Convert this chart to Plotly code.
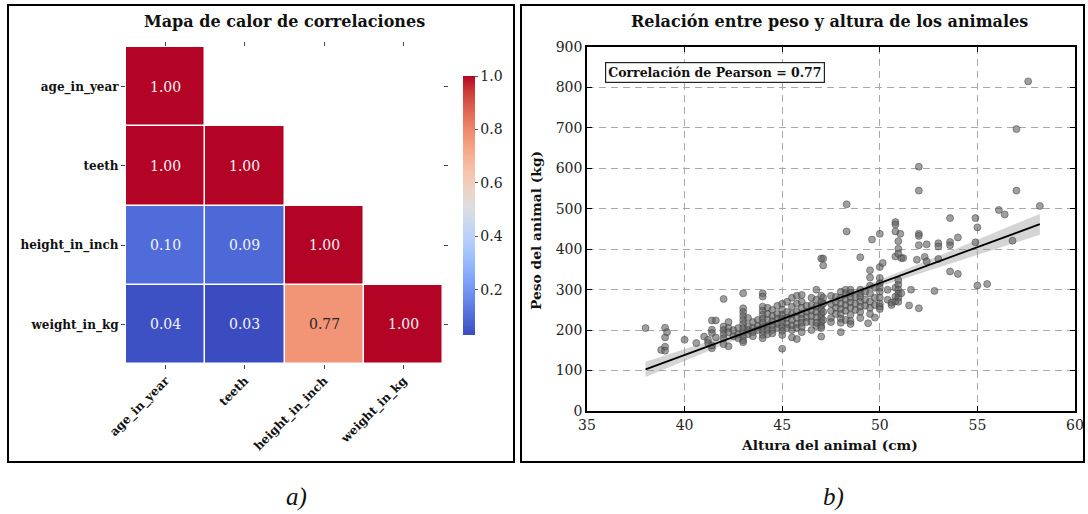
import plotly.graph_objects as go

# ---------------- data ----------------
variables = ["age_in_year", "teeth", "height_in_inch", "weight_in_kg"]
corr_age = [1.00, None, None, None]
corr_teeth = [1.00, 1.00, None, None]
corr_height = [0.10, 0.09, 1.00, None]
corr_weight = [0.04, 0.03, 0.77, 1.00]
cbar_ticks = [0.2, 0.4, 0.6, 0.8, 1.0]

height_cm = [
    38.0, 38.8, 39.0, 39.0, 39.0, 39.0, 39.1, 40.0, 40.6, 41.0, 41.2, 41.2,
    41.4, 41.4, 41.4, 41.4, 41.4, 41.6, 41.6,
    42.0, 42.0, 42.0, 42.0, 42.0, 42.0, 42.25, 42.25, 42.25, 42.25, 42.5, 42.5,
    42.75, 42.75, 42.75,
    43.0, 43.0, 43.0, 43.0, 43.0, 43.0, 43.0, 43.0, 43.0, 43.0, 43.0,
    43.25, 43.25, 43.25, 43.25, 43.5, 43.5, 43.5, 43.5, 43.75, 43.75, 43.75,
    44.0, 44.0, 44.0, 44.0, 44.0, 44.0, 44.0, 44.0, 44.0, 44.0, 44.0,
    44.25, 44.25, 44.25, 44.25, 44.25, 44.25,
    44.5, 44.5, 44.5, 44.5, 44.5, 44.5,
    44.75, 44.75, 44.75, 44.75, 44.75,
    45.0, 45.0, 45.0, 45.0, 45.0, 45.0, 45.0, 45.0, 45.0,
    45.25, 45.25, 45.25, 45.25, 45.25,
    45.5, 45.5, 45.5, 45.5, 45.5, 45.5, 45.5,
    45.75, 45.75, 45.75, 45.75, 45.75, 45.75, 45.75,
    46.0, 46.0, 46.0, 46.0, 46.0, 46.0, 46.0, 46.0,
    46.25, 46.25, 46.25, 46.25,
    46.5, 46.5, 46.5, 46.5, 46.5, 46.5,
    46.75, 46.75, 46.75, 46.75, 46.75, 46.75, 46.75,
    47.0, 47.0, 47.0, 47.0, 47.0, 47.0, 47.0, 47.0, 47.0, 47.0, 47.0,
    47.1, 47.1, 47.1, 47.1, 47.1, 47.1,
    47.5, 47.5, 47.5, 47.5, 47.5,
    47.75, 47.75, 47.75, 47.75,
    48.0, 48.0, 48.0, 48.0, 48.0, 48.0, 48.0, 48.0,
    48.25, 48.25, 48.25, 48.25, 48.25, 48.25,
    48.3, 48.3,
    48.5, 48.5, 48.5, 48.5, 48.5, 48.5, 48.5, 48.5,
    48.75, 48.75, 48.75,
    49.0, 49.0, 49.0, 49.0, 49.0, 49.0, 49.0, 49.0,
    49.25, 49.25, 49.25, 49.4,
    49.5, 49.5, 49.5, 49.5, 49.5, 49.5, 49.5, 49.6,
    49.75, 49.75, 49.75, 49.75,
    50.0, 50.0, 50.0, 50.0, 50.0, 50.0, 50.0, 50.0, 50.0, 50.0, 50.15,
    50.4, 50.4, 50.6, 50.6,
    50.8, 50.8, 50.8, 50.8, 50.8, 50.8, 50.8,
    50.95, 50.95, 50.95, 50.95, 50.95, 50.95, 50.95, 50.95, 50.95,
    51.05, 51.1, 51.1, 51.2, 51.5, 51.6, 51.9,
    52.0, 52.0, 52.0, 52.0, 52.0, 52.0, 52.3, 52.4, 52.4, 52.8,
    53.0, 53.0, 53.0, 53.6, 53.6, 53.6, 53.6, 54.0, 54.0,
    54.9, 54.9, 55.0, 55.0, 55.5, 56.1, 56.4, 56.8, 57.0, 57.0, 57.6, 58.2,
]
weight_kg = [
    205, 151, 206, 182, 159, 149, 195, 176, 168, 184, 176, 168,
    224, 201, 193, 155, 162, 224, 182,
    277, 209, 200, 190, 180, 165, 220, 205, 195, 160, 200, 185,
    205, 190, 180,
    291, 254, 245, 235, 225, 215, 205, 195, 185, 175, 170,
    230, 210, 200, 190, 220, 205, 195, 185, 225, 210, 200,
    291, 283, 258, 248, 238, 228, 218, 208, 198, 188, 180,
    255, 240, 225, 210, 200, 190,
    250, 235, 222, 212, 200, 192,
    260, 240, 228, 215, 205,
    265, 250, 238, 228, 218, 208, 198, 188, 154,
    270, 245, 230, 215, 205,
    280, 258, 240, 225, 212, 200, 182,
    285, 265, 245, 230, 215, 205, 178,
    287, 270, 255, 240, 228, 218, 208, 195,
    260, 245, 232, 220,
    280, 262, 248, 235, 220, 200,
    300, 275, 258, 245, 232, 218, 210,
    377, 285, 270, 260, 250, 240, 230, 220, 210, 205, 184,
    377, 360, 280, 265, 245, 225,
    285, 265, 248, 230, 220,
    282, 268, 255, 240,
    295, 280, 265, 252, 240, 228, 218, 195,
    300, 290, 275, 262, 248, 225,
    511, 444,
    300, 292, 280, 268, 255, 238, 222, 215,
    282, 265, 250,
    380, 300, 290, 282, 270, 258, 245, 230,
    295, 275, 260, 217,
    348, 330, 310, 290, 270, 255, 240, 424,
    305, 280, 262, 231,
    438, 356, 329, 316, 305, 295, 280, 265, 258, 252, 366,
    300, 275, 262, 268,
    467, 461, 444, 382, 305, 283, 271,
    420, 401, 389, 323, 312, 300, 290, 280, 270,
    438, 378, 291, 378, 261, 300, 374,
    604, 545, 438, 433, 410, 254, 381, 412, 370, 297,
    415, 407, 376, 477, 418, 410, 345, 429, 339,
    477, 417, 454, 310, 314, 497, 486, 421, 697, 545, 815, 507,
]

fit_x = [38.0, 42.0, 46.0, 50.0, 54.0, 58.2]
fit_y = [103, 174, 245, 316, 387, 462]
band_lower = [84, 164, 239, 308, 371, 436]
band_upper = [122, 184, 251, 324, 403, 488]
pearson_r = 0.77

# ---------------- style ----------------
coolwarm = [
    [0.0, "rgb(59,76,192)"], [0.0625, "rgb(77,104,215)"], [0.125, "rgb(98,130,234)"],
    [0.1875, "rgb(119,154,247)"], [0.25, "rgb(141,176,254)"], [0.3125, "rgb(163,194,255)"],
    [0.375, "rgb(184,208,249)"], [0.4375, "rgb(204,217,238)"], [0.5, "rgb(221,221,221)"],
    [0.5625, "rgb(236,211,197)"], [0.625, "rgb(245,196,173)"], [0.6875, "rgb(247,177,148)"],
    [0.75, "rgb(244,154,123)"], [0.8125, "rgb(236,127,99)"], [0.875, "rgb(222,96,77)"],
    [0.9375, "rgb(203,62,56)"], [1.0, "rgb(180,4,38)"],
]
SERIF = "DejaVu Serif"
W, H = 1088, 514

def px(x):
    return x / W

def py(y):
    return 1 - y / H

z = [corr_age, corr_teeth, corr_height, corr_weight]
zmin = min(v for row in z for v in row if v is not None)
zmax = max(v for row in z for v in row if v is not None)

fig = go.Figure()

fig.add_trace(go.Heatmap(
    z=z, x=variables, y=variables, xaxis="x", yaxis="y",
    colorscale=coolwarm, zmin=zmin, zmax=zmax, xgap=1.5, ygap=1.5,
    hoverongaps=False,
    colorbar=dict(
        x=px(463), xanchor="left", xpad=0, y=py(205.5), yanchor="middle", ypad=0,
        len=(335 - 76) / H, lenmode="fraction", thickness=12,
        outlinewidth=0, tickvals=cbar_ticks, ticktext=[f"{t:.1f}" for t in cbar_ticks],
        ticks="outside", ticklen=3, tickcolor="#555",
        tickfont=dict(family=SERIF, size=14, color="#222"),
    ),
))

annotations = []
for r, row in enumerate(z):
    for c, v in enumerate(row):
        if v is None:
            continue
        norm = (v - zmin) / (zmax - zmin)
        color = "#262626" if 0.6 < norm < 0.85 else "#f5f5f5"
        annotations.append(dict(
            x=variables[c], y=variables[r], xref="x", yref="y", text=f"{v:.2f}",
            xanchor="center", yanchor="middle",
            showarrow=False, font=dict(family=SERIF, size=14, color=color),
        ))

# regression band and line
fig.add_trace(go.Scatter(
    x=fit_x + fit_x[::-1], y=band_upper + band_lower[::-1], xaxis="x2", yaxis="y2",
    fill="toself", fillcolor="rgba(150,150,150,0.4)", line=dict(width=0),
    mode="lines", showlegend=False, hoverinfo="skip",
))
fig.add_trace(go.Scatter(
    x=height_cm, y=weight_kg, xaxis="x2", yaxis="y2", mode="markers",
    marker=dict(size=7, color="rgba(95,95,95,0.6)",
                line=dict(color="rgba(60,60,60,0.6)", width=0.8)),
    showlegend=False,
))
fig.add_trace(go.Scatter(
    x=fit_x, y=fit_y, xaxis="x2", yaxis="y2", mode="lines",
    line=dict(color="black", width=1.8), showlegend=False,
))

tick_font = dict(family=SERIF, size=14, color="#222")
label_font = dict(family=SERIF, size=12, color="#111", weight="bold")

fig.update_layout(
    width=W, height=H, margin=dict(l=0, r=0, t=0, b=0, autoexpand=False),
    paper_bgcolor="white", plot_bgcolor="white", showlegend=False,
    xaxis=dict(
        domain=[px(126), px(443)], anchor="y", type="category", automargin=False,
        tickangle=-45, tickfont=label_font, ticks="outside", ticklen=4,
        tickcolor="#444", mirror="ticks", showgrid=False, zeroline=False,
        showline=False, fixedrange=True,
    ),
    yaxis=dict(
        domain=[py(364), py(47)], anchor="x", type="category", automargin=False,
        autorange="reversed", tickfont=label_font, ticks="outside", ticklen=4,
        tickcolor="#444", mirror="ticks", showgrid=False, zeroline=False,
        showline=False, fixedrange=True,
    ),
    xaxis2=dict(
        domain=[px(587), px(1075)], anchor="y2", range=[35, 60], dtick=5,
        automargin=False,
        tickfont=tick_font, ticks="inside", ticklen=5, tickcolor="black",
        showline=True, linecolor="black", linewidth=1.5, mirror="allticks",
        showgrid=True, gridcolor="#a8a8a8", gridwidth=1, griddash="7px,5px",
        zeroline=False,
    ),
    yaxis2=dict(
        domain=[py(411), py(47)], anchor="x2", range=[0, 900], dtick=100,
        automargin=False,
        tickfont=tick_font, ticks="inside", ticklen=5, tickcolor="black",
        showline=True, linecolor="black", linewidth=1.5, mirror="allticks",
        showgrid=True, gridcolor="#a8a8a8", gridwidth=1, griddash="7px,5px",
        zeroline=False,
    ),
)

annotations += [
    dict(text="<b>Mapa de calor de correlaciones</b>", x=px(284), y=py(22),
         xref="paper", yref="paper", xanchor="center", yanchor="middle", showarrow=False,
         font=dict(family=SERIF, size=16, color="#111")),
    dict(text="<b>Relación entre peso y altura de los animales</b>", x=px(829), y=py(22),
         xref="paper", yref="paper", xanchor="center", yanchor="middle", showarrow=False,
         font=dict(family=SERIF, size=16, color="#111")),
    dict(text="<b>Altura del animal (cm)</b>", x=px(829), y=py(445),
         xref="paper", yref="paper", xanchor="center", yanchor="middle", showarrow=False,
         font=dict(family=SERIF, size=13.8, color="#111")),
    dict(text="<b>Peso del animal (kg)</b>", x=px(536), y=py(231), textangle=-90,
         xref="paper", yref="paper", xanchor="center", yanchor="middle", showarrow=False,
         font=dict(family=SERIF, size=13.8, color="#111")),
    dict(text=f"<b>Correlación de Pearson = {pearson_r:.2f}</b>",
         x=(605 - 587) / 488, y=(411 - 72.5) / 364, xref="x2 domain", yref="y2 domain",
         xanchor="left", yanchor="middle", showarrow=False,
         font=dict(family=SERIF, size=12.5, color="#111"),
         bordercolor="#222", borderwidth=1.2, borderpad=2, bgcolor="white"),
    dict(text="<i>a)</i>", x=px(296), y=py(497), xref="paper", yref="paper",
         xanchor="center", yanchor="middle",
         showarrow=False, font=dict(family="Liberation Serif", size=25, color="#111")),
    dict(text="<i>b)</i>", x=px(833), y=py(497), xref="paper", yref="paper",
         xanchor="center", yanchor="middle",
         showarrow=False, font=dict(family="Liberation Serif", size=25, color="#111")),
]
fig.update_layout(annotations=annotations)

fig.update_layout(shapes=[
    dict(type="rect", xref="paper", yref="paper", x0=px(8), x1=px(514),
         y0=py(462), y1=py(5), line=dict(color="black", width=2)),
    dict(type="rect", xref="paper", yref="paper", x0=px(521), x1=px(1084),
         y0=py(462), y1=py(5), line=dict(color="black", width=2)),
])

fig.write_html("out.html", config={"displayModeBar": False},
               post_script="document.body.style.margin='0';")
